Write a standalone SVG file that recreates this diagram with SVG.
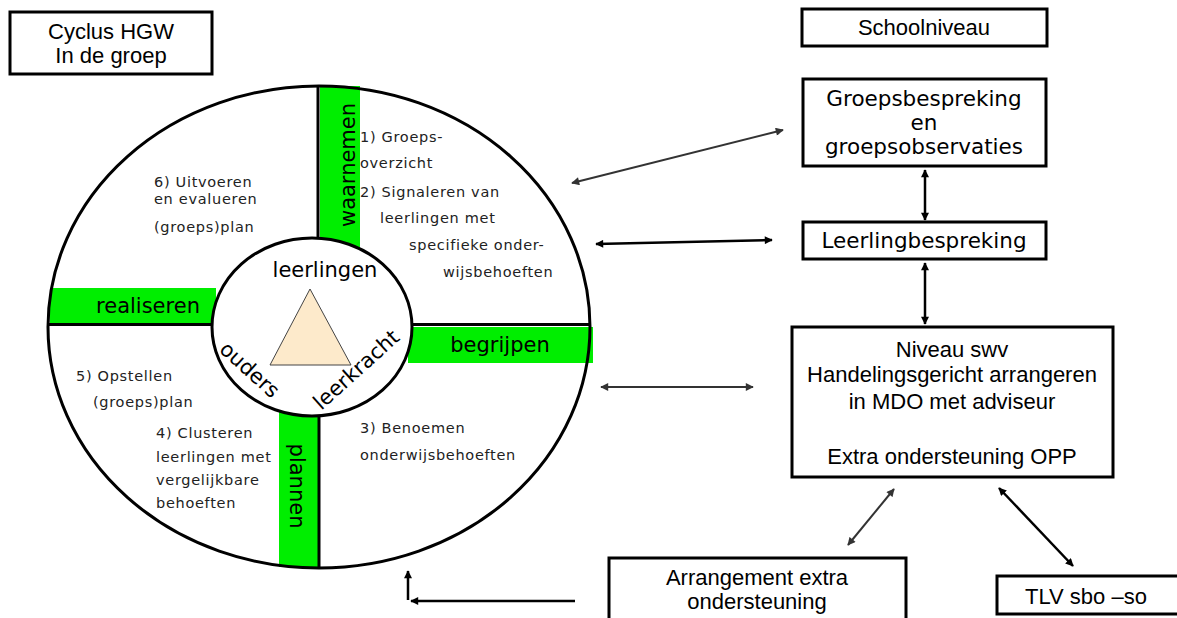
<svg xmlns="http://www.w3.org/2000/svg" width="1177" height="618" viewBox="0 0 1177 618">
<style>
.box{fill:#fff;stroke:#000;stroke-width:3}
.ar{font-family:"Liberation Sans",Arial,sans-serif;font-size:22px;fill:#000;text-anchor:middle}
.vd{font-family:"DejaVu Sans",Verdana,sans-serif;font-size:21.5px;fill:#000;text-anchor:middle}
.bar{fill:#00ee00}
.lbl{font-family:"DejaVu Sans",Verdana,sans-serif;font-size:21px;fill:#000;text-anchor:middle}
.sm{font-family:"DejaVu Sans",Verdana,sans-serif;font-size:14.5px;fill:#222;letter-spacing:0.7px}
.div{stroke:#000;stroke-width:3;fill:none}
.c{fill:none;stroke:#333;stroke-width:2}
.k{fill:none;stroke:#000;stroke-width:2.5}
</style>
<defs>
<marker id="hk" viewBox="0 0 10 10" refX="9" refY="5" markerWidth="9" markerHeight="8" markerUnits="userSpaceOnUse" orient="auto-start-reverse"><path d="M0,0 L10,5 L0,10 z" fill="#000"/></marker>
<marker id="hg" viewBox="0 0 10 10" refX="9" refY="5" markerWidth="9" markerHeight="8" markerUnits="userSpaceOnUse" orient="auto-start-reverse"><path d="M0,0 L10,5 L0,10 z" fill="#333"/></marker>
</defs>
<rect width="1177" height="618" fill="#fff"/>

<g id="title">
<rect class="box" x="10" y="12" width="202" height="62"/>
<text class="ar" x="111" y="39">Cyclus HGW</text>
<text class="ar" x="111" y="63">In de groep</text>
</g>

<g id="cycle">
<rect class="bar" x="320" y="86" width="40" height="165"/>
<rect class="bar" x="50" y="288" width="166" height="36"/>
<rect class="bar" x="408" y="327" width="185" height="36"/>
<rect class="bar" x="279" y="412" width="39" height="155"/>
<ellipse cx="319" cy="327" rx="271" ry="241" fill="none" stroke="#000" stroke-width="3"/>
<line class="div" x1="318" y1="87" x2="318" y2="240"/>
<line class="div" x1="48" y1="324.5" x2="214" y2="324.5"/>
<line class="div" x1="410" y1="324.5" x2="590" y2="324.5"/>
<line class="div" x1="319" y1="414" x2="319" y2="569"/>
<ellipse cx="312" cy="327" rx="100" ry="89" fill="#fff" stroke="#000" stroke-width="3"/>
<polygon points="310,289 270,365 351,365" fill="#fdeacb" stroke="#444" stroke-width="1"/>
<text class="lbl" x="325" y="277" font-size="18.5">leerlingen</text>
<text class="lbl" font-size="18" transform="translate(245,375) rotate(42)">ouders</text>
<text class="lbl" font-size="18" transform="translate(361,375) rotate(-42)">leerkracht</text>
<text class="lbl" font-size="22" transform="translate(355,165) rotate(-90)">waarnemen</text>
<text class="lbl" x="148" y="313" font-size="22">realiseren</text>
<text class="lbl" x="500" y="352" font-size="22">begrijpen</text>
<text class="lbl" transform="translate(290,486) rotate(90)">plannen</text>
<text class="sm" x="360" y="142">1) Groeps-</text>
<text class="sm" x="360" y="168">overzicht</text>
<text class="sm" x="360" y="197">2) Signaleren van</text>
<text class="sm" x="380" y="223">leerlingen met</text>
<text class="sm" x="409" y="250">specifieke onder-</text>
<text class="sm" x="443" y="277">wijsbehoeften</text>
<text class="sm" x="154" y="187">6) Uitvoeren</text>
<text class="sm" x="154" y="204">en evalueren</text>
<text class="sm" x="154" y="232">(groeps)plan</text>
<text class="sm" x="76" y="381">5) Opstellen</text>
<text class="sm" x="93" y="407">(groeps)plan</text>
<text class="sm" x="156" y="438">4) Clusteren</text>
<text class="sm" x="156" y="462">leerlingen met</text>
<text class="sm" x="156" y="485">vergelijkbare</text>
<text class="sm" x="156" y="508">behoeften</text>
<text class="sm" x="360" y="433">3) Benoemen</text>
<text class="sm" x="360" y="460">onderwijsbehoeften</text>
</g>

<g id="schoolniveau">
<rect class="box" x="802" y="9" width="245" height="37"/>
<text class="ar" x="924" y="35" font-size="21">Schoolniveau</text>
</g>
<g id="groepsbespreking">
<rect class="box" x="803" y="79" width="243" height="87"/>
<text class="vd" x="924" y="106">Groepsbespreking</text>
<text class="vd" x="924" y="130">en</text>
<text class="vd" x="924" y="154">groepsobservaties</text>
</g>
<g id="leerlingbespreking">
<rect class="box" x="803" y="222" width="243" height="37"/>
<text class="vd" x="924" y="248">Leerlingbespreking</text>
</g>
<g id="niveau">
<rect class="box" x="792" y="327" width="321" height="150"/>
<text class="ar" x="952" y="357">Niveau swv</text>
<text class="ar" x="952" y="382">Handelingsgericht arrangeren</text>
<text class="ar" x="952" y="409">in MDO met adviseur</text>
<text class="ar" x="952" y="464">Extra ondersteuning OPP</text>
</g>
<g id="arrangement">
<rect class="box" x="609" y="558" width="297" height="72"/>
<text class="ar" x="757" y="585">Arrangement extra</text>
<text class="ar" x="757" y="609">ondersteuning</text>
</g>
<g id="tlv">
<rect class="box" x="997" y="576" width="184" height="38"/>
<text class="ar" x="1086" y="604">TLV sbo –so</text>
</g>

<g id="connectors">
<line class="c" x1="572" y1="183" x2="783" y2="130" marker-start="url(#hg)" marker-end="url(#hg)"/>
<line class="k" x1="596" y1="244" x2="772" y2="240" marker-start="url(#hk)" marker-end="url(#hk)"/>
<line class="k" x1="925" y1="170" x2="925" y2="220" stroke-width="2" marker-start="url(#hk)" marker-end="url(#hk)"/>
<line class="k" x1="925" y1="263" x2="925" y2="324" stroke-width="2" marker-start="url(#hk)" marker-end="url(#hk)"/>
<line class="c" x1="601" y1="387" x2="753" y2="387" marker-start="url(#hg)" marker-end="url(#hg)"/>
<line class="c" x1="848" y1="545" x2="894" y2="489" marker-start="url(#hg)" marker-end="url(#hg)"/>
<line class="k" x1="999" y1="488" x2="1073" y2="566" marker-start="url(#hk)" marker-end="url(#hk)"/>
<line class="k" x1="575" y1="601" x2="411" y2="601" stroke-width="1.5" marker-end="url(#hk)"/>
<line class="k" x1="408" y1="600" x2="408" y2="571" stroke-width="1.5" marker-end="url(#hk)"/>
</g>
</svg>
